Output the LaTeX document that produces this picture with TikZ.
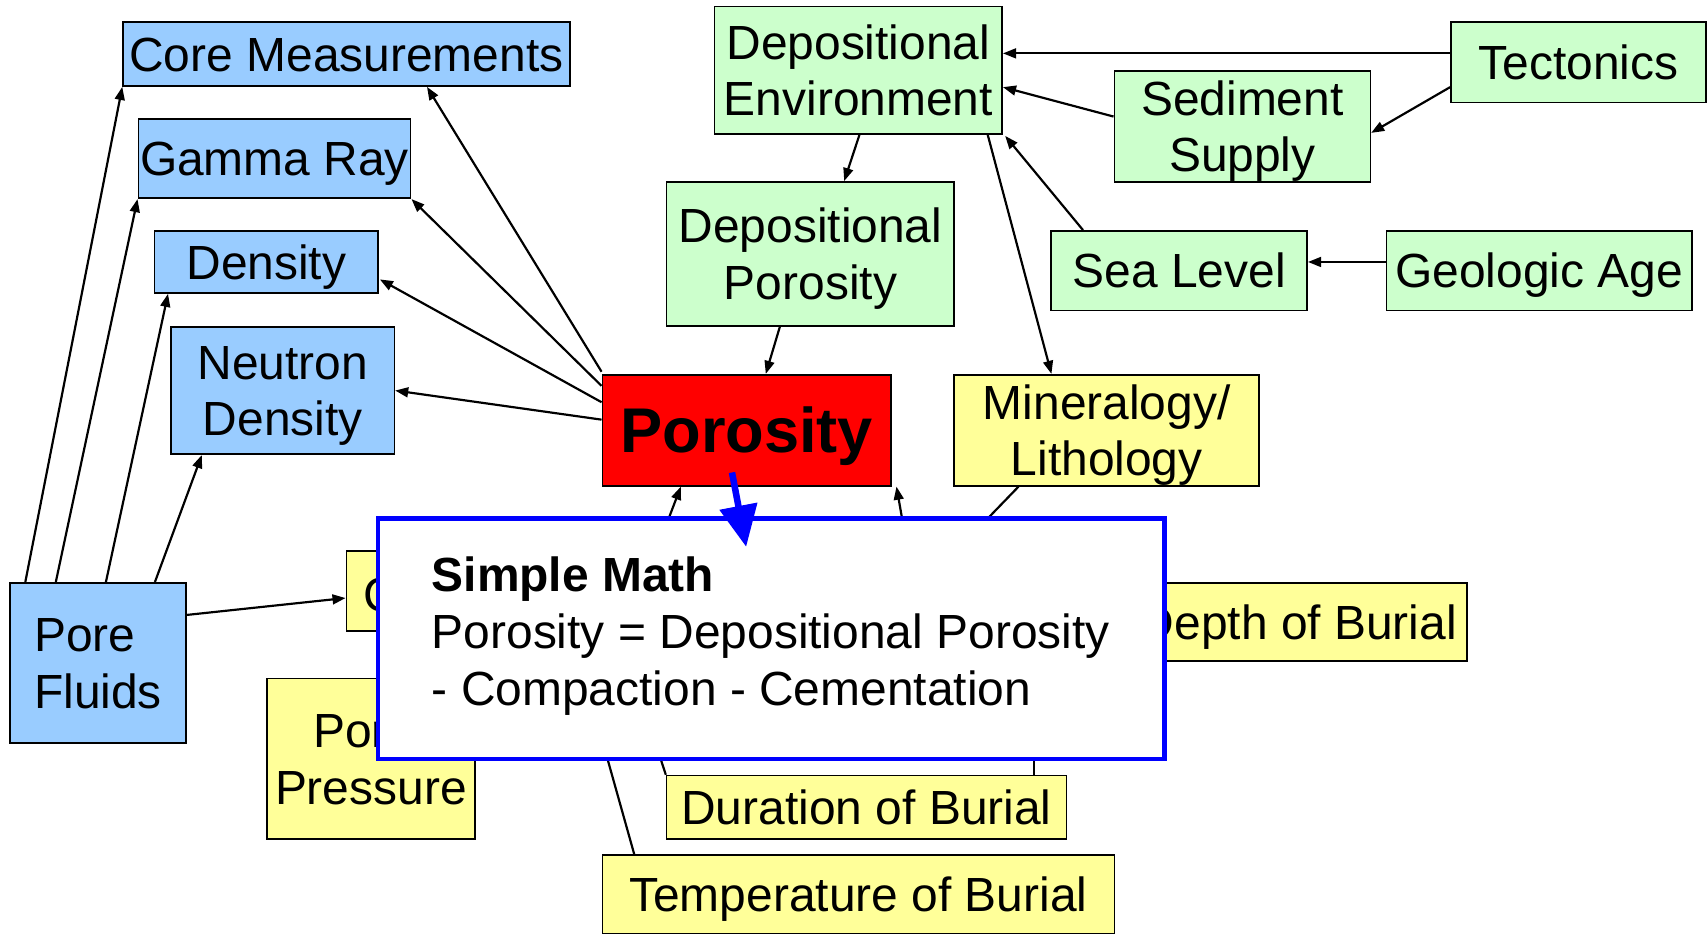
\documentclass[tikz,border=0pt]{standalone}
\usepackage{fontspec}
\setmainfont{Liberation Sans}
\usetikzlibrary{arrows.meta}
\definecolor{bfill}{HTML}{99CCFF}
\definecolor{gfill}{HTML}{CCFFCC}
\definecolor{yfill}{HTML}{FFFF99}
\definecolor{rfill}{HTML}{FF0000}
\definecolor{mblue}{HTML}{0000FF}
\newcommand\mytop{\rule{0pt}{20.35pt}}
\newcommand\mybot{\rule[-4.6pt]{0pt}{4.6pt}}
\begin{document}
\begin{tikzpicture}[x=0.5pt,y=-0.5pt,
  box/.style={draw=black, line width=0.75pt, inner sep=0pt, align=center, font=\fontsize{22}{26}\selectfont},
  one/.style={text height=15.75pt, text depth=0pt},
  bbox/.style={box, fill=bfill},
  gbox/.style={box, fill=gfill},
  ybox/.style={box, fill=yfill},
  conn/.style={line width=1pt, -{Triangle[length=6pt,width=4.5pt]}},
  plainline/.style={line width=1pt}]
\fill[white] (0,0) rectangle (1568,862);
\useasboundingbox (0,0) rectangle (1568,862);

% blue
\node[bbox, one, minimum width=205pt, minimum height=29.5pt] (core) at (318,49.5) {Core Measurements};
\node[bbox, one, minimum width=125pt, minimum height=36.5pt] (gamma) at (252,145.5) {Gamma Ray};
\node[bbox, one, minimum width=102.5pt, minimum height=28.5pt] (density) at (244.5,240.5) {Density};
\node[bbox, minimum width=102.5pt, minimum height=58.5pt] (neutron) at (259.5,358.5) {\mytop Neutron\\ Density\mybot};
\node[bbox, minimum width=81pt, minimum height=73.5pt, align=left] (porefl) at (90,608.5) {\mytop Pore\\Fluids\mybot};

% green
\node[gbox, minimum width=132pt, minimum height=58.5pt] (depenv) at (788,64.5) {\mytop Depositional\\Environment\mybot};
\node[gbox, one, minimum width=117pt, minimum height=37pt] (tect) at (1449,57) {Tectonics};
\node[gbox, minimum width=117.5pt, minimum height=51pt] (sedsup) at (1140.5,116) {\mytop Sediment\\Supply\mybot};
\node[gbox, minimum width=132pt, minimum height=66pt] (deppor) at (744,233) {\mytop Depositional\\Porosity\mybot};
\node[gbox, one, minimum width=117.5pt, minimum height=36.5pt] (sealevel) at (1082.5,248.5) {Sea Level};
\node[gbox, one, minimum width=140pt, minimum height=36.5pt] (geoage) at (1413,248.5) {Geologic Age};

% red
\node[box, fill=rfill, minimum width=132.5pt, minimum height=51pt, font=\fontsize{29}{34}\selectfont\bfseries, text height=20.8pt, text depth=0pt] (poros) at (685.5,395) {Porosity};

% yellow
\node[ybox, minimum width=140pt, minimum height=51pt] (miner) at (1016,395) {\mytop Mineralogy/\\Lithology\mybot};
\node[ybox, one, minimum width=155pt, minimum height=36pt] (depth) at (1192,571) {Depth of Burial};
\node[ybox, one, minimum width=183.5pt, minimum height=29pt] (duration) at (795.5,741) {Duration of Burial};
\node[ybox, one, minimum width=235pt, minimum height=36pt] (temp) at (788,821) {Temperature of Burial};
\node[ybox, minimum width=95.5pt, minimum height=73.5pt] (porepr) at (340.5,696.5) {\mytop Pore\hspace*{0.3em}\\Pressure\mybot};
\node[ybox, minimum width=101pt, minimum height=36.5pt] (cbox) at (419,542.5) {};
\node[anchor=west, inner sep=0pt, font=\fontsize{22}{26}\selectfont, one] (ctext) at (333,546) {C};

% connectors
\draw[conn] ([shift={(0,-2)}]poros.north west) -- ([shift={(74,0)}]core.south);
\draw[conn] ([shift={(0,11)}]poros.north west) -- (gamma.south east);
\draw[conn] ([shift={(0,26)}]poros.north west) -- ([shift={(1,16)}]density.east);
\draw[conn] ([shift={(0,42)}]poros.north west) -- (neutron.east);
\draw[conn] ([shift={(15,0)}]porefl.north west) -- (core.south west);
\draw[conn] ([shift={(43,0)}]porefl.north west) -- (gamma.south west);
\draw[conn] ([shift={(89,0)}]porefl.north west) -- ([shift={(13,0)}]density.south west);
\draw[conn] ([shift={(134,0)}]porefl.north west) -- ([shift={(29,0)}]neutron.south west);
\draw[conn] ([shift={(0,-44)}]porefl.east) -- ([shift={(0,6.5)}]cbox.west);
\draw[conn] ([shift={(0,-8)}]tect.west) -- ([shift={(0,-15.5)}]depenv.east);
\draw[conn] ([shift={(0,23)}]tect.west) -- ([shift={(0,6)}]sedsup.east);
\draw[conn] ([shift={(0,-9)}]sedsup.west) -- ([shift={(0,15.5)}]depenv.east);
\draw[conn] ([shift={(30,0)}]sealevel.north west) -- ([shift={(2,1)}]depenv.south east);
\draw[conn] ([shift={(0,-8)}]geoage.west) -- ([shift={(0,-8)}]sealevel.east);
\draw[conn] ([shift={(1,0)}]depenv.south) -- ([shift={(31,0)}]deppor.north);
\draw[conn] ([shift={(-14,0)}]depenv.south east) -- ([shift={(90,0)}]miner.north west);
\draw[conn] ([shift={(-28,0)}]deppor.south) -- ([shift={(17.5,0)}]poros.north);

% connectors running under the note
\coordinate (h1) at (599,515);
\coordinate (h2) at (835,515);
\coordinate (h3) at (869,515);
\coordinate (h4) at (949,680);
\coordinate (h5) at (601,680);
\coordinate (h6) at (553,680);
\draw[conn] (h1) -- ([shift={(-60.5,0)}]poros.south);
\draw[conn] (h2) -- ([shift={(137.5,0)}]poros.south);
\draw[plainline] ([shift={(-81,0)}]miner.south) -- (h3);
\draw[plainline] ([shift={(153.5,0)}]duration.north) -- (h4);
\draw[plainline] (duration.north west) -- (h5);
\draw[plainline] ([shift={(30,0)}]temp.north west) -- (h6);

% note
\node[draw=mblue, line width=2pt, fill=white, minimum width=361pt, minimum height=110.5pt, inner sep=0pt] (mathbox) at (708,586.5) {};
\node[anchor=west, align=left, inner sep=0pt, font=\fontsize{22}{26.25}\selectfont] (mathtxt) at (396,584) {\textbf{Simple Math}\\Porosity = Depositional Porosity\\- Compaction - Cementation};
\draw[line width=3pt, mblue, -{Triangle[length=19pt,width=17pt]}] ([shift={(-13.5,-13)}]poros.south) -- ([shift={(-23,28)}]mathbox.north);
\end{tikzpicture}
\end{document}
